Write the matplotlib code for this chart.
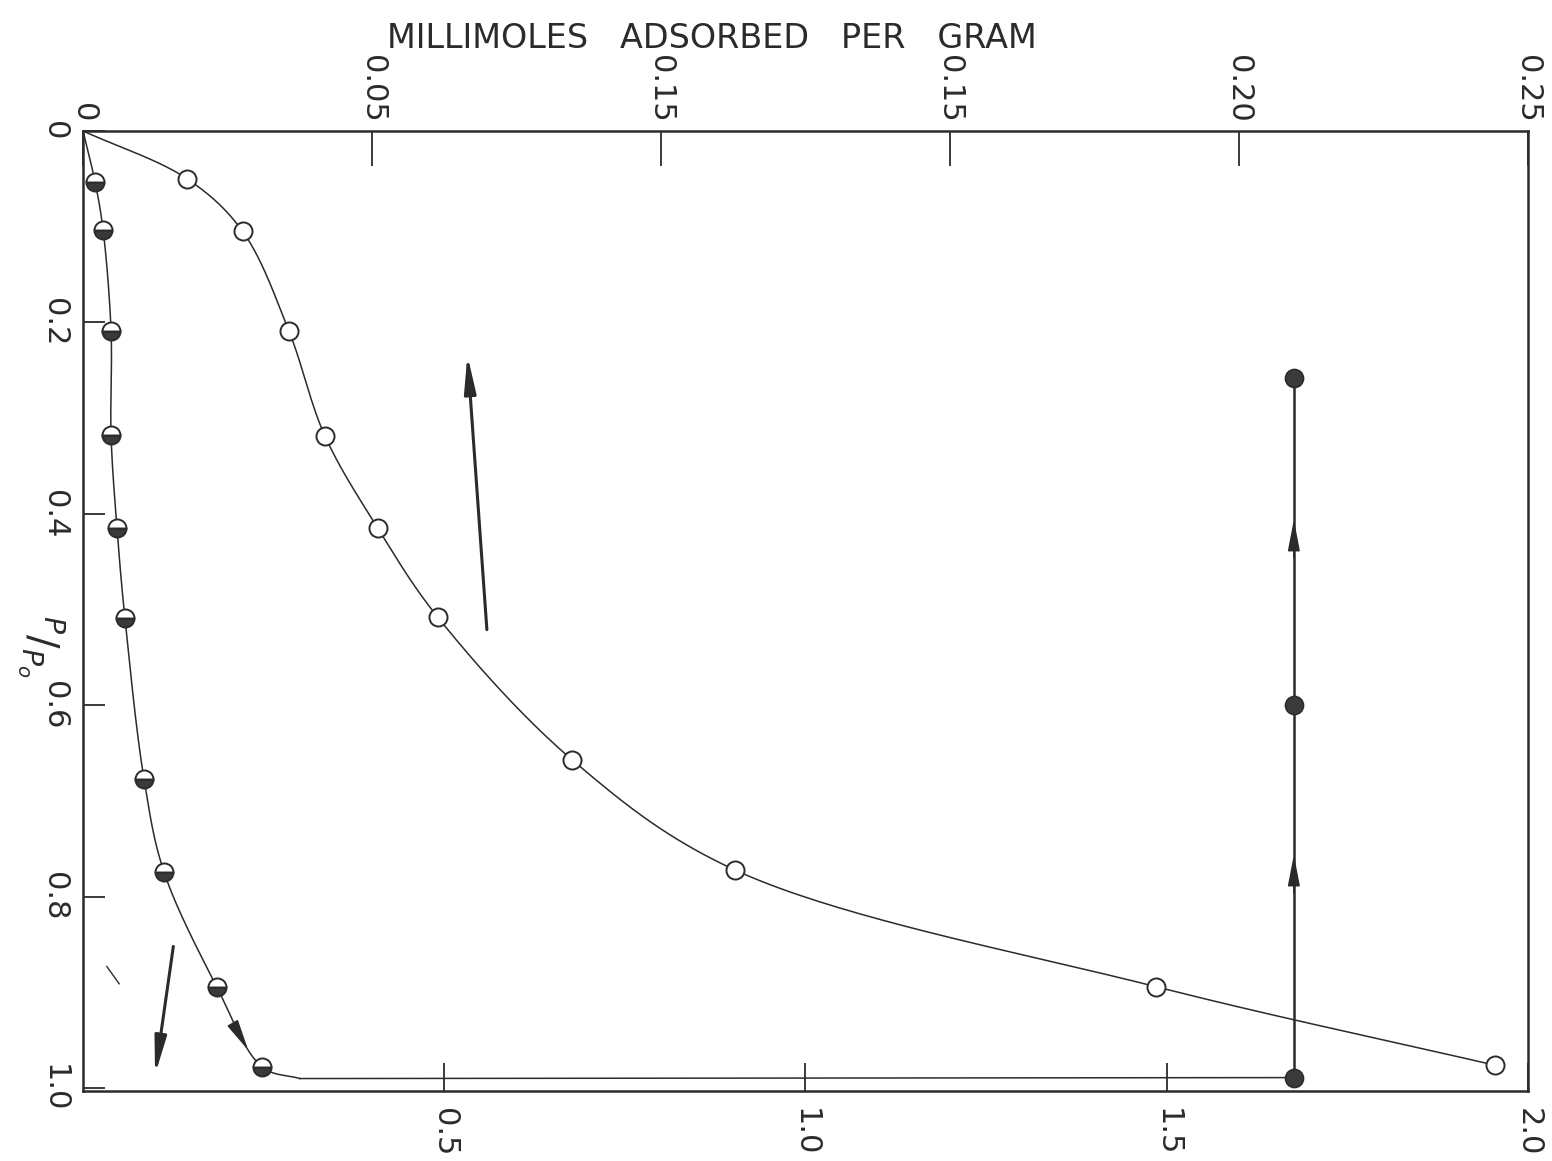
import matplotlib as mpl
mpl.use("Agg")
import matplotlib.pyplot as plt
import numpy as np

plt.rcParams['font.family'] = ['DejaVu Sans']
plt.rcParams['mathtext.fontset'] = 'dejavusans'

# P/Po on the vertical axis, uptake on the horizontal axis (0 - 2.0 scale)
open_x = [0.144, 0.221, 0.285, 0.335, 0.408, 0.491, 0.677, 0.902, 1.485, 1.954]
open_p = [0.050, 0.105, 0.209, 0.319, 0.415, 0.508, 0.657, 0.772, 0.894, 0.976]

half_x = [0.0166, 0.0277, 0.0388, 0.0388, 0.047, 0.058, 0.0844, 0.112, 0.185, 0.248]
half_p = [0.053, 0.103, 0.209, 0.318, 0.415, 0.509, 0.677, 0.774, 0.894, 0.978]

full_x = [1.676, 1.676, 1.676]
full_p = [0.258, 0.600, 0.989]

# where the lower curve turns into the flat run along P/Po = 1
bend = (0.300, 0.990)

top_ticks = [0, 0.05, 0.10, 0.15, 0.20, 0.25]
top_labels = ['0', '0.05', '0.15', '0.15', '0.20', '0.25']
bottom_ticks = [0.5, 1.0, 1.5, 2.0]
bottom_labels = ['0.5', '1.0', '1.5', '2.0']
left_ticks = [0, 0.2, 0.4, 0.6, 0.8, 1.0]
left_labels = ['0', '0.2', '0.4', '0.6', '0.8', '1.0']

ink = '#2b2b2b'


def spline(xs, ys, sx=722.5, sy=958.0, n=40):
    # centripetal Catmull-Rom through the points, done in screen-like units
    p = np.column_stack([np.asarray(xs) * sx, np.asarray(ys) * sy])
    p = np.vstack([2 * p[0] - p[1], p, 2 * p[-1] - p[-2]])
    out = []
    for i in range(1, len(p) - 2):
        p0, p1, p2, p3 = p[i - 1], p[i], p[i + 1], p[i + 2]
        t0 = 0.0
        t1 = t0 + np.linalg.norm(p1 - p0) ** 0.5
        t2 = t1 + np.linalg.norm(p2 - p1) ** 0.5
        t3 = t2 + np.linalg.norm(p3 - p2) ** 0.5
        t = np.linspace(t1, t2, n)[:, None]
        a1 = (t1 - t) / (t1 - t0) * p0 + (t - t0) / (t1 - t0) * p1
        a2 = (t2 - t) / (t2 - t1) * p1 + (t - t1) / (t2 - t1) * p2
        a3 = (t3 - t) / (t3 - t2) * p2 + (t - t2) / (t3 - t2) * p3
        b1 = (t2 - t) / (t2 - t0) * a1 + (t - t0) / (t2 - t0) * a2
        b2 = (t3 - t) / (t3 - t1) * a2 + (t - t1) / (t3 - t1) * a3
        c = (t2 - t) / (t2 - t1) * b1 + (t - t1) / (t2 - t1) * b2
        out.append(c if i == 1 else c[1:])
    c = np.vstack(out)
    return c[:, 0] / sx, c[:, 1] / sy


fig = plt.figure(figsize=(15.52, 11.61), dpi=100)
ax = fig.add_axes([0.0535, 0.0603, 0.931, 0.8269])
ax.set_xlim(0, 2.0)
ax.set_ylim(1.003, 0)

# curves
cx, cy = spline([0] + open_x, [0] + open_p)
ax.plot(cx, cy, color=ink, lw=1.1, zorder=2)
lx, ly = spline([0] + half_x + [bend[0]], [0] + half_p + [bend[1]])
ax.plot(lx, ly, color=ink, lw=1.1, zorder=2)
ax.plot([bend[0], full_x[-1]], [bend[1], full_p[-1]], color=ink, lw=1.1, zorder=2)
ax.plot(full_x, full_p, color=ink, lw=1.8, zorder=2)

# points
ax.plot(open_x, open_p, 'o', ms=13, mfc='white', mec=ink, mew=1.4, zorder=4)
ax.plot(half_x, half_p, 'o', ms=13, fillstyle='bottom', mfc='#3a3a3a',
        mfcalt='white', mec=ink, mew=1.4, zorder=4)
ax.plot(full_x, full_p, 'o', ms=13, mfc='#3a3a3a', mec=ink, mew=1.2, zorder=4)

# direction arrows
arrow = dict(arrowstyle='-|>,head_length=1.4,head_width=0.22', color=ink,
             lw=2.2, shrinkA=0, shrinkB=0, mutation_scale=16)
ax.annotate('', xy=(0.532, 0.234), xytext=(0.559, 0.521), arrowprops=arrow)
ax.annotate('', xy=(0.0997, 0.986), xytext=(0.125, 0.852), arrowprops=arrow)
small = dict(arrowstyle='-|>,head_length=1.3,head_width=0.25', color=ink,
             lw=1.1, shrinkA=0, shrinkB=0, mutation_scale=15)
# arrowhead riding on the lower curve, between its last two points
k = np.searchsorted(ly, 0.960)
ax.annotate('', xy=(lx[k], ly[k]), xytext=(lx[k - 6], ly[k - 6]), arrowprops=small)
for tip in (0.406, 0.756):
    ax.annotate('', xy=(full_x[0], tip), xytext=(full_x[0], tip + 0.04),
                arrowprops=small)
ax.plot([0.033, 0.050], [0.873, 0.891], color=ink, lw=1.0)

# frame and ticks
for s in ax.spines.values():
    s.set_linewidth(1.8)
    s.set_color(ink)

ax.set_xticks(bottom_ticks, labels=bottom_labels, rotation=-90)
ax.set_yticks(left_ticks, labels=left_labels, rotation=-90, va='center')
ax.tick_params(axis='x', direction='in', length=20, width=1.3, color=ink,
               labelsize=22, pad=12, labelcolor=ink)
ax.tick_params(axis='y', direction='in', length=16, width=1.3, color=ink,
               labelsize=22, pad=10, labelcolor=ink)

top = ax.secondary_xaxis('top', functions=(lambda v: v / 8.0, lambda v: v * 8.0))
top.set_xticks(top_ticks, labels=top_labels, rotation=-90)
top.tick_params(direction='in', length=25, width=1.3, color=ink,
                labelsize=22, pad=6, labelcolor=ink)
top.spines['top'].set_visible(False)

fig.text(0.459, 0.967, 'MILLIMOLES   ADSORBED   PER   GRAM', ha='center',
         va='center', fontsize=24, color=ink)
fig.text(0.026, 0.443, r'$^{P}/_{P_o}$', rotation=-90, ha='center',
         va='center', fontsize=29, color=ink)

fig.savefig('out.png', dpi=100)
